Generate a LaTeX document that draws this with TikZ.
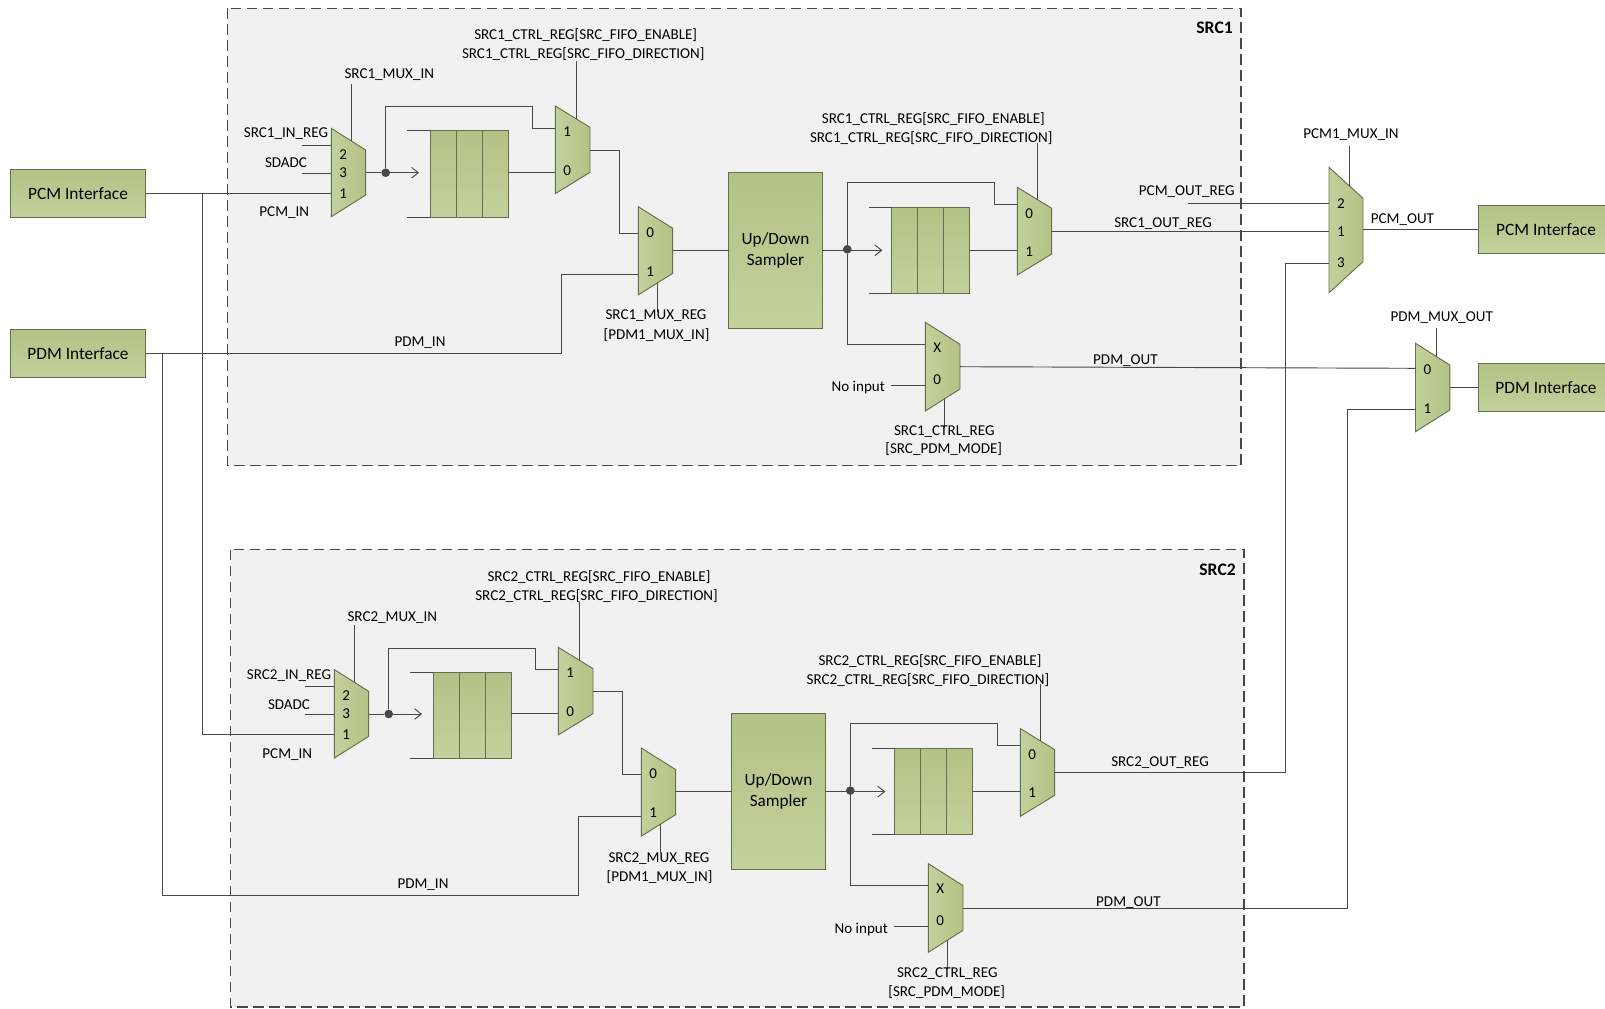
\documentclass[tikz,border=0pt]{standalone}
\usepackage{fontspec}
\setmainfont{Carlito}
\usepackage{tikz}
\usetikzlibrary{
  calc,                  % Points along the sloped mux edges
  positioning,           % FIFO cells side by side
  arrows.meta            % Open arrow in front of each FIFO
}

\definecolor{boxedge}{HTML}{666E50}
\definecolor{greentop}{HTML}{B3C285}
\definecolor{greenlow}{HTML}{C3D19C}
\definecolor{wiregray}{HTML}{484848}
\definecolor{srcfill}{HTML}{F1F1F1}

\tikzset{
  srcbox/.style={fill=srcfill, draw=wiregray, line width=1.1pt, dash pattern=on 8pt off 4pt},
  wire/.style={draw=wiregray, line width=0.7pt},
  wiretip/.style={wire, -{Straight Barb[length=5pt,width=8pt]}},
  muxbody/.style={draw=boxedge, line width=0.7pt, left color=greenlow, right color=greentop},
  muxdigit/.style={font=\fontsize{11.3}{12}\selectfont, inner sep=0pt, text height=7.2pt, text depth=0pt},
  lbl/.style={font=\fontsize{11.3}{12}\selectfont, inner sep=0pt, text height=7.2pt, text depth=0pt},
  srcname/.style={font=\fontsize{13.2}{14}\selectfont\bfseries, inner sep=0pt, text height=8.4pt, text depth=0pt, anchor=east},
  cellbox/.style={draw=boxedge, line width=0.7pt, top color=greentop, bottom color=greenlow,
    minimum width=19.5pt, minimum height=64.7pt, inner sep=0pt, outer sep=0pt},
  ifacebox/.style={draw=boxedge, line width=0.8pt, top color=greentop, bottom color=greenlow,
    minimum width=101.5pt, minimum height=36pt, inner sep=0pt, outer sep=0pt,
    font=\fontsize{13}{15}\selectfont},
  samplerbox/.style={draw=boxedge, line width=0.8pt, top color=greentop, bottom color=greenlow,
    minimum width=70.2pt, minimum height=116.8pt, inner sep=0pt, outer sep=0pt, align=center,
    font=\fontsize{12.9}{15.7}\selectfont},
  junction/.style={circle, fill=wiregray, minimum size=6.5pt, inner sep=0pt}
}

% mux outline: name, x, y, width, rise, height of the right side
\newcommand{\muxshape}[6]{
  \draw[muxbody] (#2,#3) coordinate (#1-a) -- ++(#4,#5) coordinate (#1-b)
    -- ++(0,#6) coordinate (#1-c) -- ++(-#4,#5) coordinate (#1-d) -- cycle;
}
% mux input: name, digit, y of the wire, y of the digit
\newcommand{\muxport}[4]{
  \coordinate (#1-p#2) at (#1-a |- 0,#3);
  \node[muxdigit] (#1-n#2) at ([xshift=9pt]#1-a |- 0,#4) {#2};
}
% select lines: name, place along the edge, length
\newcommand{\muxseltop}[3]{\draw[wire] ($(#1-a)!#2!(#1-b)$) -- ++(0,-#3) coordinate (#1-s);}
\newcommand{\muxsellow}[3]{\draw[wire] ($(#1-d)!#2!(#1-c)$) -- ++(0,#3) coordinate (#1-s);}
% fifo: name, x, y of the first cell
\newcommand{\fifocells}[3]{
  \node[cellbox, anchor=north west] (#1c1) at (#2,#3) {};
  \node[cellbox, right=0pt of #1c1] (#1c2) {};
  \node[cellbox, right=0pt of #1c2] (#1c3) {};
  \draw[wire] (#1c1.north west) -- ++(-22.7,0) coordinate (#1rt);
  \draw[wire] (#1c1.south west) -- ++(-22.7,0) coordinate (#1rb);
}

\begin{document}
\begin{tikzpicture}[x=0.75pt, y=-0.75pt]
    \useasboundingbox (0,0) rectangle (1605,1008);

    % Both SRC blocks
    \foreach \n/\dx/\dy/\shl/\shr/\lift in {1/0/0/0/0/0pt, 2/3/541.3/10.3/-6.3/-0.8pt} {
      \begin{scope}[shift={(\dx,\dy)}, lbl/.append style={yshift=\lift}]
        % Block outline
        \draw[srcbox] (227.5,8.3) rectangle (1241,465.7);
        \node[srcname] (srcname\n) at (1233,28.3) {SRC\n};

        % Input mux
        \muxshape{muxin\n}{331.3}{128.3}{34.4}{21.7}{45}
        \muxport{muxin\n}{2}{145}{154.3}
        \muxport{muxin\n}{3}{173.3}{172.3}
        \muxport{muxin\n}{1}{193.3}{193.3}
        \muxseltop{muxin\n}{0.58}{57}
        \node[lbl] (lblmuxin\n) at (389.3,74) {SRC\n\_MUX\_IN};
        \node[lbl] (lblinreg\n) at (286,132.3) {SRC\n\_IN\_REG};
        \node[lbl] (lblsdadc\n) at (286,162.3) {SDADC};
        \node[lbl] (lblpcmin\n) at (284.3,211.3) {PCM\_IN};
        \coordinate (inreg\n) at (301.7,145);
        \coordinate (sdadc\n) at (301.7,173.3);
        \draw[wire] (inreg\n) -- (muxin\n-p2);
        \draw[wire] (sdadc\n) -- (muxin\n-p3);

        % First FIFO
        \node[junction] (dota\n) at (385.7,172.7) {};
        \coordinate (tipa\n) at (419,172.7);
        \draw[wire] (muxin\n-b |- dota\n) -- (dota\n);
        \draw[wiretip] (dota\n) -- (tipa\n);
        \fifocells{fifoa\n}{430}{130.7}

        % Mux behind the first FIFO
        \muxshape{muxfa\n}{555.3}{106}{34.7}{21.3}{45}
        \muxport{muxfa\n}{1}{128.3}{131.7}
        \muxport{muxfa\n}{0}{172.3}{170.3}
        \muxseltop{muxfa\n}{0.6}{57.8}
        \node[lbl] (lblfaen\n) at ({585.7+\shl},34.3) {SRC\n\_CTRL\_REG[SRC\_FIFO\_ENABLE]};
        \node[lbl] (lblfadir\n) at ({583.3+\shl},53.3) {SRC\n\_CTRL\_REG[SRC\_FIFO\_DIRECTION]};
        \draw[wire] (dota\n) |- (532.3,106.7) |- (muxfa\n-p1);
        \draw[wire] (fifoa\n c3.east |- muxfa\n-p0) -- (muxfa\n-p0);

        % Mux in front of the sampler
        \muxshape{muxpdm\n}{638.3}{206.7}{34.4}{21.6}{45}
        \muxport{muxpdm\n}{0}{233}{232.3}
        \muxport{muxpdm\n}{1}{274.7}{271.3}
        \muxsellow{muxpdm\n}{0.56}{29}
        \node[lbl] (lblmuxreg\n) at (656,315) {SRC\n\_MUX\_REG};
        \node[lbl] (lblmuxbit\n) at (656.5,334.6) {[PDM1\_MUX\_IN]};
        \node[lbl] (lblpdmin\n) at (420,341.6) {PDM\_IN};
        \draw[wire] (muxfa\n-b |- 0,150) -| (619.7,233) -- (muxpdm\n-p0);

        % Sampler
        \node[samplerbox] (sampler\n) at (775.5,250.5) {Up/Down\\Sampler};
        \draw[wire] (muxpdm\n-b |- 0,250.3) -- (sampler\n.west |- 0,250.3);

        % Second FIFO
        \node[junction] (dotb\n) at (847.3,249.3) {};
        \coordinate (tipb\n) at (882.3,250.3);
        \draw[wire] (sampler\n.east |- 0,250.3) -- (dotb\n |- 0,250.3);
        \draw[wiretip] (dotb\n |- 0,250.3) -- (tipb\n);
        \fifocells{fifob\n}{891.7}{207.3}

        % Mux behind the second FIFO
        \muxshape{muxfb\n}{1017.3}{187.3}{34.4}{21}{45.7}
        \muxport{muxfb\n}{0}{204.3}{213.7}
        \muxport{muxfb\n}{1}{250.3}{251.7}
        \muxseltop{muxfb\n}{0.59}{57}
        \node[lbl] (lblfben\n) at ({933.3+\shr},118.3) {SRC\n\_CTRL\_REG[SRC\_FIFO\_ENABLE]};
        \node[lbl] (lblfbdir\n) at ({931.3+\shr},137.3) {SRC\n\_CTRL\_REG[SRC\_FIFO\_DIRECTION]};
        \draw[wire] (dotb\n) |- (994,182.3) |- (muxfb\n-p0);
        \draw[wire] (fifob\n c3.east |- muxfb\n-p1) -- (muxfb\n-p1);

        % PDM mode mux
        \muxshape{muxx\n}{925.3}{322.3}{34.7}{22}{44.7}
        \muxport{muxx\n}{X}{344.3}{347.3}
        \muxport{muxx\n}{0}{385.3}{379.3}
        \muxsellow{muxx\n}{0.56}{29.2}
        \node[lbl] (lblnoin\n) at (858.3,386.3) {No input};
        \coordinate (noin\n) at (891,385.3);
        \node[lbl] (lblmode\n) at (944.3,430.5) {SRC\n\_CTRL\_REG};
        \node[lbl] (lblmodebit\n) at (943.7,449) {[SRC\_PDM\_MODE]};
        \draw[wire] (dotb\n) |- (muxx\n-pX);
        \draw[wire] (noin\n) -- (muxx\n-p0);

        % Names on the long wires
        \node[lbl] (lblpdmout\n) at (1125.4,359.3) {PDM\_OUT};
      \end{scope}
    }

    % Interfaces on the left
    \node[ifacebox] (pcmleft) at (78,193.3) {PCM Interface};
    \node[ifacebox] (pdmleft) at (78,353.5) {PDM Interface};

    % Interfaces on the right, cut by the page edge
    \node[ifacebox] (pcmright) at (1546,229.6) {PCM Interface};
    \node[ifacebox] (pdmright) at (1546,387.8) {PDM Interface};

    % Output muxes
    \muxshape{muxpcm}{1329}{167.3}{34}{31}{63.4}
    \muxport{muxpcm}{2}{203.3}{203.3}
    \muxport{muxpcm}{1}{231.3}{231.7}
    \muxport{muxpcm}{3}{263}{262.7}
    \muxseltop{muxpcm}{0.6}{40}
    \node[lbl] (lblpcmmux) at (1351,133.3) {PCM1\_MUX\_IN};
    \node[lbl] (lblpcmout) at (1402.4,218.3) {PCM\_OUT};
    \node[lbl] (lblpcmreg) at (1186.7,191) {PCM\_OUT\_REG};
    \coordinate (pcmreg) at (1187.9,203.3);
    \draw[wire] (pcmreg) -- (muxpcm-p2);

    \muxshape{muxpdmo}{1415.5}{343.3}{34.3}{21.7}{45}
    \muxport{muxpdmo}{0}{368.3}{369.3}
    \muxport{muxpdmo}{1}{409.7}{408.3}
    \muxseltop{muxpdmo}{0.6}{28}
    \node[lbl] (lblpdmmux) at (1441.7,316.7) {PDM\_MUX\_OUT};

    \draw[wire] (muxpcm-b |- pcmright) -- (pcmright.west);
    \draw[wire] (muxpdmo-b |- pdmright) -- (pdmright.west);

    % PCM input
    \draw[wire] (pcmleft.east) -- (muxin1-p1);
    \draw[wire] (202.7,193.3) |- (muxin2-p1);

    % PDM input
    \draw[wire] (pdmleft.east) -| (561,274.7) -- (muxpdm1-p1);
    \draw[wire] (162.3,353.5) |- (578.3,895.3) |- (muxpdm2-p1);

    % Block outputs
    \node[lbl] (lblout1) at (1163,222.3) {SRC1\_OUT\_REG};
    \node[lbl] (lblout2) at (1160,761.6) {SRC2\_OUT\_REG};
    \draw[wire] (muxfb1-b |- muxpcm-p1) -- (muxpcm-p1);
    \draw[wire] (muxfb2-b |- 0,772.7) -| (1285,263) -- (muxpcm-p3);
    \draw[wire] (muxx1-b |- 0,366.7) -- (muxpdmo-p0);
    \draw[wire] (muxx2-b |- 0,908.3) -| (1347.6,409.7) -- (muxpdmo-p1);
\end{tikzpicture}
\end{document}
